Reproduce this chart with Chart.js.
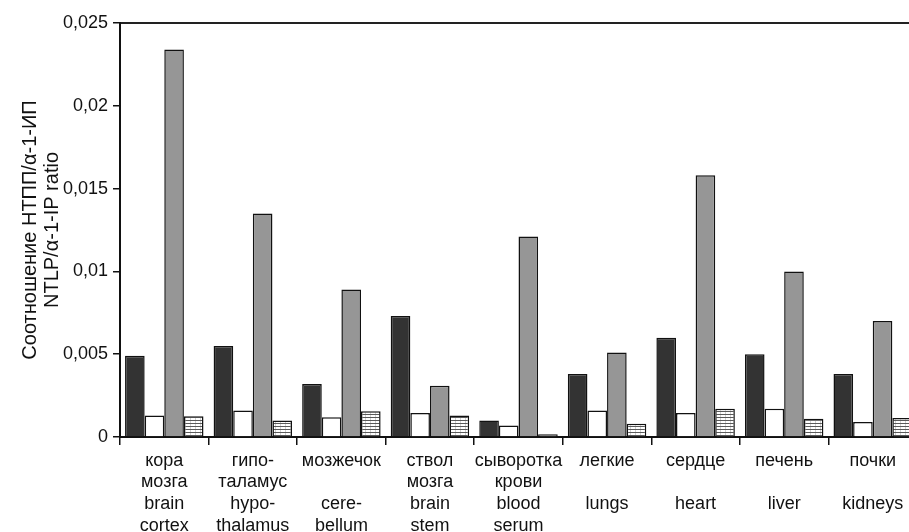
<!DOCTYPE html>
<html>
<head>
<meta charset="utf-8">
<script src="https://cdn.jsdelivr.net/npm/chart.js@4.4.1/dist/chart.umd.min.js"></script>
<style>
  html, body { margin: 0; padding: 0; background: #fff; overflow: hidden; }
  #wrap { position: relative; width: 918px; height: 532px; }
</style>
</head>
<body>
<div id="wrap"><canvas id="c"></canvas></div>
<script>
// Tissue categories (Russian / English, one label line per entry)
const categories = [
  ["кора", "мозга", "brain", "cortex"],
  ["гипо-", "таламус", "hypo-", "thalamus"],
  ["мозжечок", "", "cere-", "bellum"],
  ["ствол", "мозга", "brain", "stem"],
  ["сыворотка", "крови", "blood", "serum"],
  ["легкие", "", "lungs", ""],
  ["сердце", "", "heart", ""],
  ["печень", "", "liver", ""],
  ["почки", "", "kidneys", ""]
];

// NTLP / alpha-1-IP ratio, four series per tissue
const seriesDark    = [0.0049, 0.0055, 0.0032, 0.0073, 0.0010, 0.0038, 0.0060, 0.0050, 0.0038];
const seriesWhite   = [0.0013, 0.0016, 0.0012, 0.00145, 0.0007, 0.0016, 0.00145, 0.0017, 0.0009];
const seriesGray    = [0.0234, 0.0135, 0.0089, 0.0031, 0.0121, 0.0051, 0.0158, 0.0100, 0.0070];
const seriesHatched = [0.00125, 0.0010, 0.00155, 0.0013, 0.00017, 0.0008, 0.0017, 0.0011, 0.00115];

const yTickLabels = ["0", "0,005", "0,01", "0,015", "0,02", "0,025"];
const yTitle = ["Соотношение НТПП/α-1-ИП", "NTLP/α-1-IP ratio"];

// Horizontal-line hatch fill
function makeHatch() {
  const p = document.createElement('canvas');
  p.width = 5; p.height = 3;
  const g = p.getContext('2d');
  g.fillStyle = '#ffffff';
  g.fillRect(0, 0, 5, 3);
  g.fillStyle = '#d0d0d0';
  g.fillRect(0, 0, 1, 3);
  g.fillStyle = '#5a5a5a';
  g.fillRect(0, 0, 5, 1);
  return g.createPattern(p, 'repeat');
}

const FONT = { family: "'Liberation Sans', Arial, sans-serif", size: 18 };
const barCommon = { borderColor: '#111111', borderWidth: 1.5, categoryPercentage: 0.886, barPercentage: 1.0 };

new Chart(document.getElementById('c'), {
  type: 'bar',
  data: {
    labels: categories,
    datasets: [
      { data: seriesDark, backgroundColor: '#333333', ...barCommon },
      { data: seriesWhite, backgroundColor: '#ffffff', ...barCommon },
      { data: seriesGray, backgroundColor: '#969696', ...barCommon },
      { data: seriesHatched, backgroundColor: makeHatch(), ...barCommon }
    ]
  },
  options: {
    responsive: true,
    maintainAspectRatio: false,
    animation: false,
    devicePixelRatio: 1,
    layout: { padding: { top: 23, right: 1, bottom: 0, left: 0 } },
    plugins: { legend: { display: false }, tooltip: { enabled: false } },
    scales: {
      x: {
        position: 'bottom',
        grid: { display: true, offset: true, drawOnChartArea: false, drawTicks: true, tickLength: 8, tickColor: '#111', lineWidth: 1.5 },
        border: { display: true, color: '#111', width: 2 },
        ticks: { color: '#111', font: FONT, padding: 5, maxRotation: 0, autoSkip: false },
        afterFit: (s) => { s.height = 95; }
      },
      xTop: {
        type: 'category',
        position: 'top',
        labels: categories.map((_, i) => String(i)),
        grid: { display: false },
        ticks: { display: false },
        border: { display: true, color: '#222', width: 2 },
        afterFit: (s) => { s.height = 0; }
      },
      y: {
        min: 0,
        max: 0.025,
        ticks: {
          stepSize: 0.005,
          color: '#111',
          font: FONT,
          padding: 5,
          callback: (v, i) => yTickLabels[i]
        },
        grid: { display: true, drawOnChartArea: false, drawTicks: true, tickLength: 7, tickColor: '#111', lineWidth: 1.5 },
        border: { display: true, color: '#111', width: 2 },
        title: {
          display: true,
          text: yTitle,
          color: '#111',
          font: { family: FONT.family, size: 20, lineHeight: 1.1 },
          padding: { top: 19, bottom: 0 }
        },
        afterFit: (s) => { s.width = 120; }
      }
    }
  }
});
</script>
</body>
</html>
